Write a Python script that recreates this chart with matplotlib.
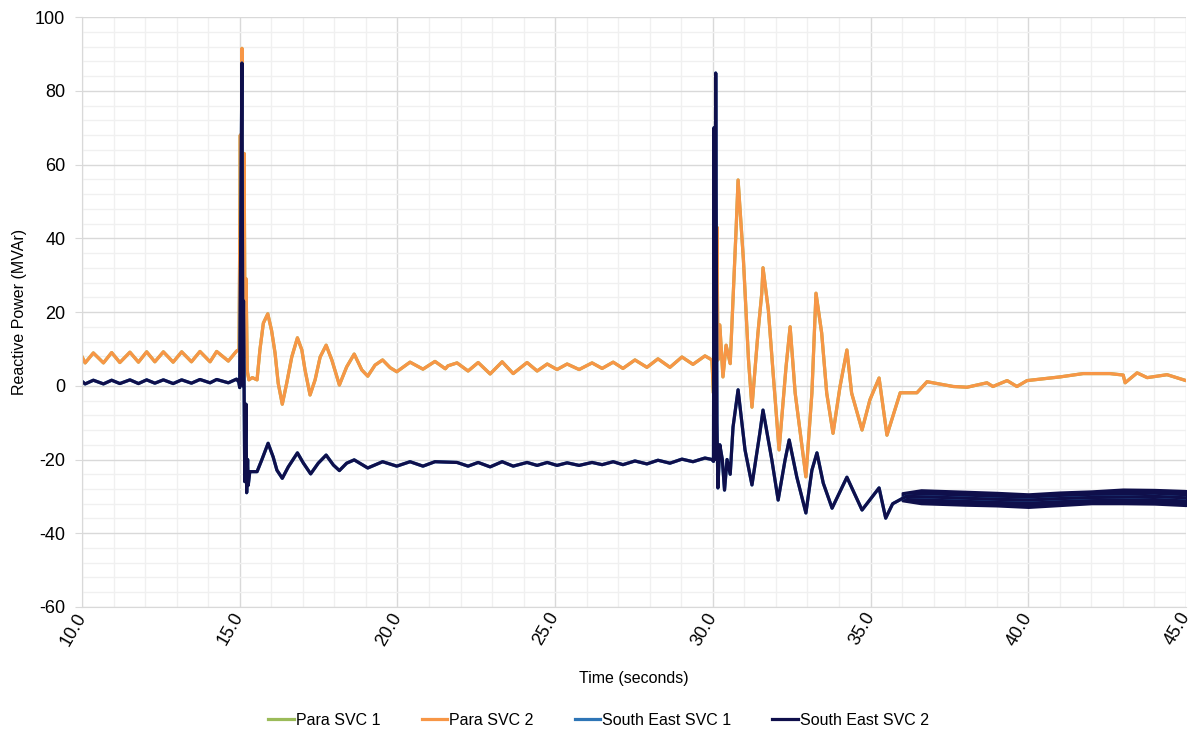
import matplotlib
matplotlib.use("Agg")
import matplotlib.pyplot as plt
from matplotlib.ticker import MultipleLocator, FormatStrFormatter

plt.rcParams['font.family'] = ['Liberation Sans', 'DejaVu Sans']
plt.rcParams['axes.unicode_minus'] = False

# Para SVC 2 (orange) - time (s), reactive power (MVAr)
para_t = [10.0, 10.10, 10.36, 10.68, 10.94, 11.20, 11.52, 11.79, 12.05, 12.31, 12.58, 12.89,
          13.16, 13.47, 13.74, 14.06, 14.27, 14.64, 14.90, 14.98,
          15.02, 15.05, 15.07, 15.10, 15.14, 15.17, 15.20, 15.24, 15.29, 15.40, 15.55, 15.64,
          15.75, 15.89, 16.01, 16.12, 16.22, 16.35, 16.49, 16.65, 16.83, 16.97, 17.07, 17.23,
          17.39, 17.55, 17.74, 17.92, 18.16, 18.39, 18.63, 18.87, 19.06, 19.29, 19.53, 19.77,
          19.98, 20.40, 20.81, 21.19, 21.52, 21.60, 21.89, 22.24, 22.56, 22.94, 23.32, 23.67,
          24.11, 24.43, 24.75, 25.06, 25.38, 25.76, 26.17, 26.49, 26.84, 27.15, 27.53, 27.91,
          28.26, 28.64, 29.02, 29.37, 29.75, 29.97,
          30.02, 30.06, 30.09, 30.13, 30.16, 30.22, 30.32, 30.42, 30.55, 30.64, 30.74, 30.80,
          30.97, 31.13, 31.24, 31.43, 31.55, 31.59, 31.76, 31.92, 32.10, 32.32, 32.45, 32.61,
          32.95, 33.14, 33.27, 33.45, 33.61, 33.81, 34.03, 34.25, 34.40, 34.73, 34.98, 35.27,
          35.52, 35.94, 36.47,
          36.79, 37.62, 38.06, 38.69, 38.88, 39.33, 39.64, 39.96, 41.01, 41.74, 42.59, 43.01,
          43.07, 43.45, 43.77, 44.40, 45.0]
para_q = [7.9, 6.2, 8.9, 6.2, 9.0, 6.3, 9.1, 6.4, 9.2, 6.5, 9.2, 6.4,
          9.2, 6.5, 9.3, 6.5, 9.3, 6.7, 9.4, 9.8,
          68.0, 15.0, 91.5, 20.0, 63.0, 8.0, 29.0, 4.0, 1.6, 2.2, 1.6, 9.7,
          17.0, 19.5, 15.0, 8.9, 0.7, -5.0, 0.7, 7.8, 13.0, 9.7, 4.3, -2.5,
          1.6, 7.8, 11.0, 7.0, 0.2, 5.1, 8.6, 4.3, 2.6, 5.6, 7.0, 4.9,
          3.8, 6.4, 4.5, 6.6, 4.6, 5.4, 6.2, 4.0, 6.3, 3.2, 6.5, 3.3,
          6.3, 4.0, 5.9, 4.4, 5.9, 4.4, 6.2, 4.7, 6.4, 4.7, 7.0, 5.0,
          7.3, 5.0, 7.8, 5.8, 8.1, 7.0,
          -2.0, 70.0, 10.0, 43.0, 7.0, 16.5, 2.4, 11.0, 6.0, 23.3, 43.0, 55.8,
          34.0, 7.0, -5.8, 14.3, 25.0, 32.0, 20.5, 2.4, -17.4, 5.1, 16.0, -2.0,
          -24.7, -2.0, 25.1, 14.3, -2.0, -12.9, -0.3, 9.7, -2.0, -12.0, -3.8, 2.1,
          -13.4, -1.9, -1.9,
          1.1, -0.2, -0.4, 0.8, -0.2, 1.4, -0.2, 1.4, 2.4, 3.3, 3.3, 2.9,
          0.8, 3.5, 2.2, 3.0, 1.4]

# South East SVC 2 (navy)
se_t = [10.0, 10.10, 10.36, 10.68, 10.94, 11.20, 11.52, 11.79, 12.05, 12.31, 12.58, 12.89,
        13.16, 13.47, 13.74, 14.06, 14.27, 14.64, 14.90, 14.97,
        15.00, 15.04, 15.07, 15.10, 15.12, 15.16, 15.20, 15.22, 15.25, 15.27, 15.32, 15.55,
        15.70, 15.90, 16.06, 16.18, 16.35, 16.54, 16.83, 17.02, 17.25, 17.49, 17.74, 17.97,
        18.16, 18.39, 18.63, 19.06, 19.53, 19.98, 20.40, 20.81,
        21.19, 21.89, 22.24, 22.56, 22.94, 23.32, 23.67, 24.11, 24.43, 24.75, 25.06, 25.38,
        25.76, 26.17, 26.49, 26.84, 27.15, 27.53, 27.91, 28.26, 28.64, 29.02, 29.37, 29.75,
        29.97, 30.02, 30.04, 30.06, 30.09, 30.13, 30.16, 30.22, 30.30, 30.37, 30.45, 30.55,
        30.64, 30.80, 31.02, 31.24, 31.49, 31.59, 31.87, 32.07, 32.29, 32.42, 32.66, 32.95,
        33.14, 33.30, 33.50, 33.78, 34.25, 34.73, 35.27, 35.48,
        35.70, 36.13, 37.0, 38.0, 39.0, 40.0, 41.0, 42.0, 43.0, 44.0, 45.0]
se_q = [1.2, 0.5, 1.5, 0.5, 1.5, 0.6, 1.6, 0.6, 1.6, 0.7, 1.6, 0.6,
        1.6, 0.7, 1.7, 0.8, 1.7, 0.8, 1.8, 1.0,
        -0.5, 50.0, 87.5, 0.0, 23.0, -26.0, -5.0, -29.0, -20.0, -27.0, -23.3, -23.3,
        -20.1, -15.6, -19.3, -22.9, -25.1, -22.0, -18.2, -21.0, -23.9, -21.0, -18.8, -21.5,
        -23.0, -21.0, -20.1, -22.3, -20.6, -21.8, -20.6, -21.8,
        -20.6, -20.8, -21.8, -20.8, -22.0, -20.6, -21.8, -20.8, -21.6, -20.8, -21.6, -20.9,
        -21.6, -20.8, -21.4, -20.6, -21.4, -20.4, -21.2, -20.2, -21.0, -19.9, -20.6, -19.6,
        -20.0, -20.5, 70.0, -20.0, 84.8, -10.0, -27.7, -16.0, -20.0, -28.3, -20.0, -24.0,
        -11.2, -1.1, -17.4, -26.9, -12.8, -6.6, -20.1, -31.0, -20.1, -14.7, -24.7, -34.5,
        -22.9, -18.2, -26.4, -33.2, -24.8, -33.7, -27.7, -35.9,
        -32.0, -30.0, -30.2, -30.5, -30.8, -31.0, -30.6, -30.3, -30.2, -30.0, -30.4]

# noise envelope of South East SVC 2 after 36 s
band_t = [36.0, 36.6, 38.0, 39.0, 40.0, 41.0, 42.0, 43.0, 44.0, 45.0]
band_hi = [-29.0, -28.2, -28.6, -28.9, -29.3, -28.8, -28.5, -28.0, -28.1, -28.4]
band_lo = [-31.2, -32.0, -32.4, -32.6, -33.0, -32.5, -32.0, -32.0, -32.1, -32.5]

labels = ["Para SVC 1", "Para SVC 2", "South East SVC 1", "South East SVC 2"]
colors = ["#9BBB59", "#F79646", "#2E75B6", "#0F0F4B"]

fig = plt.figure(figsize=(11.97, 7.37), dpi=100)
ax = fig.add_axes([0.0685, 0.1764, 0.9223, 0.8005])

# SVC 1 units sit exactly under the SVC 2 traces
ax.plot(para_t, para_q, color=colors[0], lw=2.3, label=labels[0])
ax.plot(para_t, para_q, color=colors[1], lw=2.3, label=labels[1])
ax.plot(se_t, se_q, color=colors[2], lw=2.3, label=labels[2])
ax.plot(se_t, se_q, color=colors[3], lw=2.3, label=labels[3])
ax.fill_between(band_t, band_lo, band_hi, color=colors[3], lw=1.5, edgecolor=colors[3])

ax.set_xlim(10, 45)
ax.set_ylim(-60, 100)
ax.xaxis.set_major_locator(MultipleLocator(5))
ax.xaxis.set_minor_locator(MultipleLocator(1))
ax.yaxis.set_major_locator(MultipleLocator(20))
ax.yaxis.set_minor_locator(MultipleLocator(4))
ax.xaxis.set_major_formatter(FormatStrFormatter('%.1f'))

ax.grid(which='major', color='#D9D9D9', lw=1.0)
ax.grid(which='minor', color='#F0F0F0', lw=1.0)
ax.set_axisbelow(True)
for s in ['top', 'right']:
    ax.spines[s].set_visible(False)
for s in ['left', 'bottom']:
    ax.spines[s].set_color('#D9D9D9')
ax.tick_params(axis='y', which='major', length=5, color='#D9D9D9', labelsize=13, pad=7)
ax.tick_params(axis='x', which='major', length=0, labelsize=13, pad=5)
ax.tick_params(which='minor', length=0)
for lbl in ax.get_xticklabels():
    lbl.set_rotation(60)
    lbl.set_ha('right')
    lbl.set_va('center')
    lbl.set_rotation_mode('anchor')

ax.set_xlabel("Time (seconds)", fontsize=11.5, labelpad=16)
ax.set_ylabel("Reactive Power (MVAr)", fontsize=11.5, labelpad=6)

fig.legend(loc='center', bbox_to_anchor=(0.5, 0.023), ncol=4, frameon=False,
           fontsize=11.5, handlelength=1.6, handletextpad=0.1, columnspacing=2.6)

fig.savefig("out.png", dpi=100)
